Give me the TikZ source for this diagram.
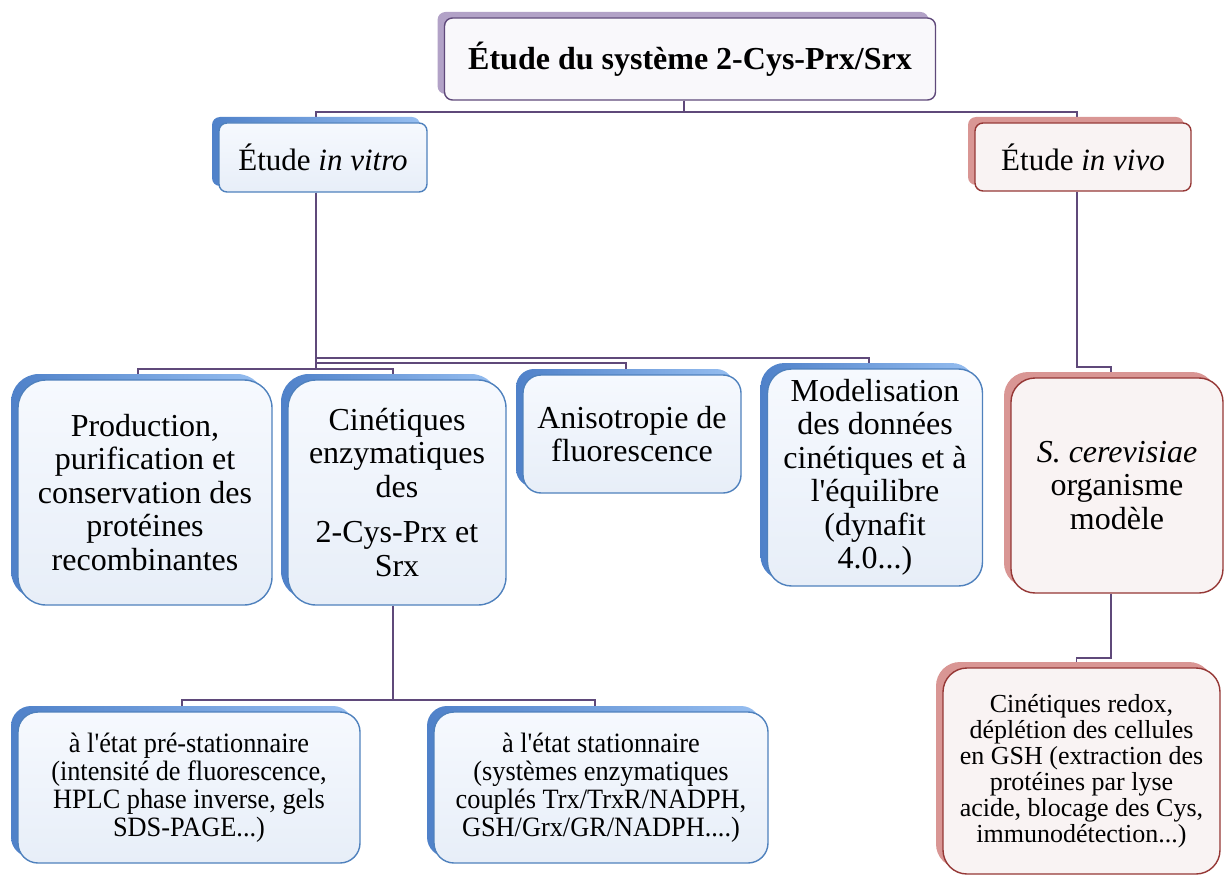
\documentclass[tikz,border=0pt]{standalone}
\usepackage{fontspec}
\setmainfont{Liberation Serif}
\newfontfamily\narrowserif[FakeStretch=0.94]{Liberation Serif}
\usetikzlibrary{shadows,backgrounds}
\definecolor{linkc}{RGB}{95,73,122}
\definecolor{topS}{RGB}{178,162,199}
\definecolor{topF}{RGB}{249,248,251}
\definecolor{blueB}{RGB}{79,129,189}
\definecolor{blueS}{RGB}{150,190,240}
\definecolor{blueSd}{RGB}{79,129,201}
\definecolor{blueT}{RGB}{246,249,254}
\definecolor{blueF}{RGB}{231,238,248}
\definecolor{redB}{RGB}{149,55,53}
\definecolor{redS}{RGB}{217,150,148}
\definecolor{redF}{RGB}{249,243,243}
\tikzset{link/.style={draw=linkc, line width=1.8pt},
  topbox/.style={draw=linkc, line width=1.4pt, fill=topF, align=center, inner sep=0pt,
    general shadow={shadow xshift=-7pt, shadow yshift=6pt, fill=topS}},
  bluebox/.style={draw=blueB, line width=1.4pt, top color=blueT, bottom color=blueF, align=center, inner sep=0pt,
    general shadow={shadow xshift=-7pt, shadow yshift=6pt, left color=blueSd, right color=blueS}},
  redbox/.style={draw=redB, line width=1.4pt, fill=redF, align=center, inner sep=0pt,
    general shadow={shadow xshift=-7pt, shadow yshift=6pt, fill=redS}}}
\begin{document}
\begin{tikzpicture}[x=1pt, y=-1pt, font=\fontsize{32}{33.5}\selectfont]
  \useasboundingbox (0,0) rectangle (1225,877);
  \clip (0,0) rectangle (1225,877);
  % top
  \node[topbox, minimum width=491pt, minimum height=82pt, rounded corners=8pt] (top) at (690,59) {\bfseries Étude du système 2-Cys-Prx/Srx};
  % first level
  \node[bluebox, minimum width=208pt, minimum height=69pt, rounded corners=8pt, font=\fontsize{31}{33}\selectfont] (vitro) at (323,157.5) {Étude \textit{in vitro}};
  \node[redbox, minimum width=216pt, minimum height=68pt, rounded corners=8pt, font=\fontsize{31}{33}\selectfont] (vivo) at (1083,157) {Étude \textit{in vivo}};
  % in vitro
  \node[bluebox, minimum width=254pt, minimum height=225pt, rounded corners=28pt] (prod) at (145,492.5) {Production,\\purification et\\conservation des\\protéines\\recombinantes};
  \node[bluebox, minimum width=218pt, minimum height=225pt, rounded corners=28pt] (cin) at (397,492.5) {Cinétiques\\enzymatiques\\des\\[12pt]2-Cys-Prx et\\Srx};
  \node[bluebox, minimum width=218pt, minimum height=118pt, rounded corners=18pt] (aniso) at (632,434) {Anisotropie de\\fluorescence};
  \node[bluebox, minimum width=215pt, minimum height=217pt, rounded corners=24pt] (model) at (875,477.5) {Modelisation\\des données\\cinétiques et à\\l\textquotesingle équilibre\\(dynafit\\4.0...)};
  % in vivo
  \node[redbox, minimum width=212pt, minimum height=215pt, rounded corners=24pt] (cerev) at (1117,485.5) {\textit{S. cerevisiae}\\organisme\\modèle};
  % kinetics
  \node[bluebox, minimum width=342pt, minimum height=151pt, rounded corners=20pt, font=\narrowserif\fontsize{28}{28}\selectfont] (pre) at (189,787.5) {à l'état pré-stationnaire\\(intensité de fluorescence,\\HPLC phase inverse, gels\\SDS-PAGE...)};
  \node[bluebox, minimum width=334pt, minimum height=151pt, rounded corners=20pt, font=\narrowserif\fontsize{28}{28}\selectfont] (stat) at (601,787.5) {à l'état stationnaire\\(systèmes enzymatiques\\couplés Trx/TrxR/NADPH,\\GSH/Grx/GR/NADPH....)};
  \node[redbox, minimum width=277pt, minimum height=206pt, rounded corners=24pt, font=\fontsize{26}{26}\selectfont] (redox) at (1081.5,771) {Cinétiques redox,\\déplétion des cellules\\en GSH (extraction des\\protéines par lyse\\acide, blocage des Cys,\\immunodétection...)};
  % links
  \begin{scope}[on background layer]
    \draw[link] ([xshift=-6pt]top.south) -- ++(0,11) -| ([xshift=-7pt]vitro.north);
    \draw[link] ([xshift=-6pt]top.south) -- ++(0,11) -| ([xshift=-6pt]vivo.north);
    \draw[link] ([xshift=-7pt]vitro.south) -- ++(0,176) -| ([xshift=-7pt]prod.north);
    \draw[link] ([xshift=-7pt]vitro.south) -- ++(0,176) -| ([xshift=-4pt]cin.north);
    \draw[link] ([xshift=-7pt]vitro.south) -- ++(0,170) -| ([xshift=-6pt]aniso.north);
    \draw[link] ([xshift=-7pt]vitro.south) -- ++(0,165) -| ([xshift=-6pt]model.north);
    \draw[link] ([xshift=-6pt]vivo.south) -- ++(0,175) -| ([xshift=-6pt]cerev.north);
    \draw[link] ([xshift=-4pt]cin.south) -- ++(0,94) -| ([xshift=-7pt]pre.north);
    \draw[link] ([xshift=-4pt]cin.south) -- ++(0,94) -| ([xshift=-6pt]stat.north);
    \draw[link] ([xshift=-6pt]cerev.south) -- ++(0,64) -| ([xshift=-5pt]redox.north);
  \end{scope}
\end{tikzpicture}
\end{document}
